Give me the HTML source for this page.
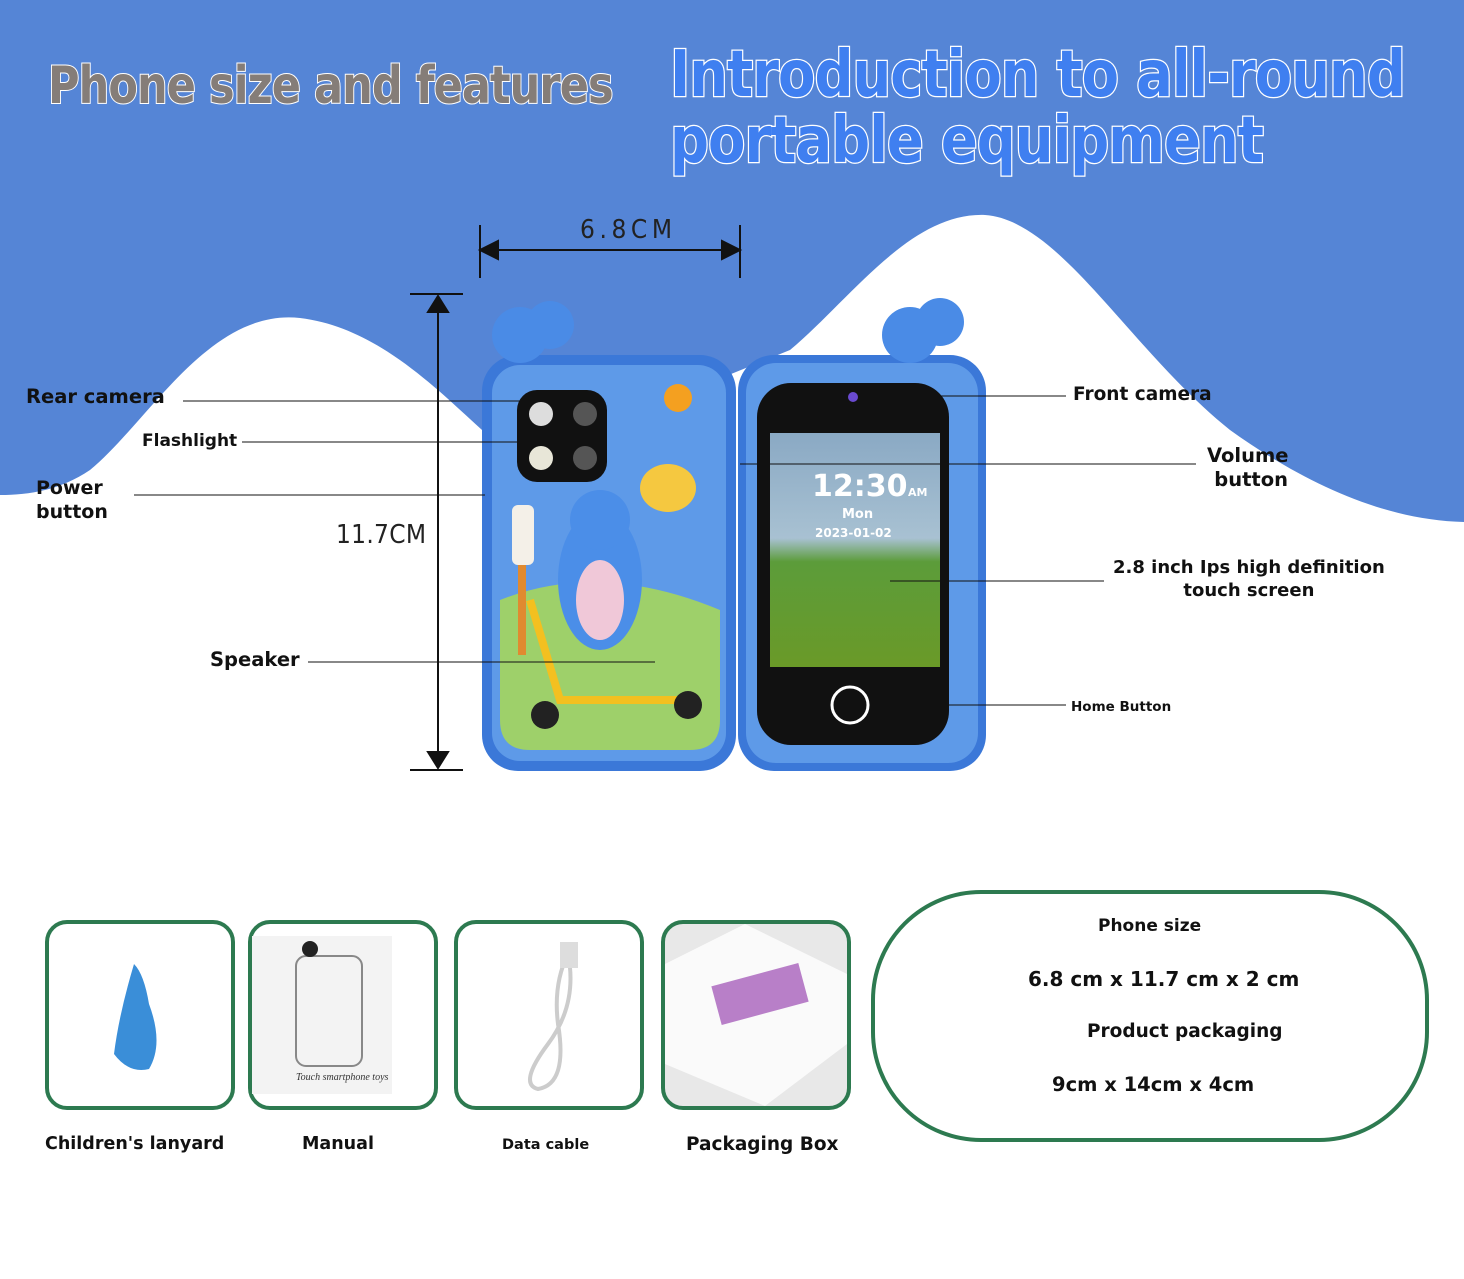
<!DOCTYPE html>
<html><head><meta charset="utf-8"><style>
html,body{margin:0;padding:0}
body{width:1464px;height:1279px;position:relative;background:#fff;overflow:hidden;font-family:"Liberation Sans","DejaVu Sans",sans-serif}
.abs{position:absolute;white-space:nowrap}
.t1{left:48px;top:56px;font:bold 52px "DejaVu Sans Condensed","DejaVu Sans",sans-serif;color:#857d78;-webkit-text-stroke:2px #fff;paint-order:stroke fill;transform-origin:0 0;transform:scaleX(0.92);letter-spacing:-1px}
.t2{left:670px;font:bold 64px "DejaVu Sans Condensed","DejaVu Sans",sans-serif;color:#3f7ff0;-webkit-text-stroke:2.5px #fff;paint-order:stroke fill;transform-origin:0 0;letter-spacing:-1px}
.lbl{font:bold 19px "DejaVu Sans","Liberation Sans",sans-serif;color:#111;line-height:24px}
.box{position:absolute;top:920px;width:182px;height:182px;border:4px solid #2d7a50;border-radius:22px;background:#fff}
.cap{position:absolute;top:1134px;font:bold 17.5px "DejaVu Sans",sans-serif;color:#111}
.big{position:absolute;left:871px;top:890px;width:550px;height:244px;border:4px solid #2d7a50;border-radius:110px}
.bt{position:absolute;font:bold 18px "DejaVu Sans",sans-serif;color:#111;white-space:nowrap}
</style></head><body>
<svg class="abs" style="left:0;top:0" width="1464" height="1279">
<path d="M0 0H1464V522C1380 520 1300 480 1230 430C1130 350 1060 220 985 215C910 212 850 300 790 350L520 460C470 430 400 330 300 318C210 308 150 420 90 470C60 490 30 495 0 495Z" fill="#5585d6"/>
<g stroke="#111" stroke-width="2" fill="#111">
<line x1="480" y1="225" x2="480" y2="278"/><line x1="740" y1="225" x2="740" y2="278"/>
<line x1="490" y1="250" x2="730" y2="250"/>
<polygon points="480,250 498,241 498,259"/><polygon points="740,250 722,241 722,259"/>
<line x1="410" y1="294" x2="463" y2="294"/><line x1="410" y1="770" x2="463" y2="770"/>
<line x1="438" y1="300" x2="438" y2="764"/>
<polygon points="438,296 428,312 448,312"/><polygon points="438,768 428,752 448,752"/>
</g>
<rect x="482" y="355" width="254" height="416" rx="36" fill="#3b78d8"/>
<rect x="492" y="365" width="234" height="396" rx="28" fill="#5e9ae8"/>
<path d="M500 600 Q600 560 720 610 L720 720 Q720 750 690 750 L530 750 Q500 750 500 720Z" fill="#9ed06a"/>
<circle cx="520" cy="335" r="28" fill="#4a8be6"/><circle cx="550" cy="325" r="24" fill="#4a8be6"/>
<rect x="517" y="390" width="90" height="92" rx="20" fill="#111"/>
<circle cx="541" cy="414" r="12" fill="#ddd"/><circle cx="585" cy="414" r="12" fill="#555"/>
<circle cx="541" cy="458" r="12" fill="#e8e6d8"/><circle cx="585" cy="458" r="12" fill="#555"/>
<circle cx="678" cy="398" r="14" fill="#f4a020"/>
<ellipse cx="600" cy="580" rx="42" ry="70" fill="#4b8ee8"/><ellipse cx="600" cy="600" rx="24" ry="40" fill="#f0c8d8"/>
<circle cx="600" cy="520" r="30" fill="#4b8ee8"/>
<ellipse cx="668" cy="488" rx="28" ry="24" fill="#f5c840"/>
<rect x="512" y="505" width="22" height="60" rx="6" fill="#f4f0e8"/>
<rect x="518" y="565" width="8" height="90" fill="#e08a30"/>
<path d="M530 600 L560 700 L690 700" stroke="#f3c020" stroke-width="8" fill="none"/>
<circle cx="545" cy="715" r="14" fill="#222"/><circle cx="688" cy="705" r="14" fill="#222"/>
<rect x="738" y="355" width="248" height="416" rx="36" fill="#3b78d8"/>
<rect x="746" y="363" width="232" height="400" rx="30" fill="#5e9ae8"/>
<circle cx="910" cy="335" r="28" fill="#4a8be6"/><circle cx="940" cy="322" r="24" fill="#4a8be6"/>
<rect x="757" y="383" width="192" height="362" rx="34" fill="#111"/>
<defs><linearGradient id="g" x1="0" y1="0" x2="0" y2="1"><stop offset="0" stop-color="#8aa9c4"/><stop offset="0.45" stop-color="#a8c1d2"/><stop offset="0.55" stop-color="#5c9c3a"/><stop offset="1" stop-color="#6a9a28"/></linearGradient></defs>
<rect x="770" y="433" width="170" height="234" fill="url(#g)"/>
<text x="812" y="496" font-family="DejaVu Sans" font-weight="bold" font-size="30" fill="#fff">12:30</text>
<text x="908" y="496" font-family="DejaVu Sans" font-weight="bold" font-size="11" fill="#fff">AM</text>
<text x="842" y="518" font-family="DejaVu Sans" font-weight="bold" font-size="13" fill="#fff">Mon</text>
<text x="815" y="537" font-family="DejaVu Sans" font-weight="bold" font-size="12" fill="#fff">2023-01-02</text>
<circle cx="850" cy="705" r="18" fill="none" stroke="#fff" stroke-width="3"/>
<circle cx="853" cy="397" r="5" fill="#6a4ad0"/>
<g stroke="#111" stroke-width="1">
<line x1="183" y1="401" x2="530" y2="401"/>
<line x1="242" y1="442" x2="530" y2="442"/>
<line x1="134" y1="495" x2="485" y2="495"/>
<line x1="308" y1="662" x2="655" y2="662"/>
<line x1="880" y1="396" x2="1066" y2="396"/>
<line x1="740" y1="464" x2="1196" y2="464"/>
<line x1="890" y1="581" x2="1104" y2="581"/>
<line x1="945" y1="705" x2="1066" y2="705"/>
</g>
<text x="580" y="238" font-family="DejaVu Sans Condensed, DejaVu Sans" font-size="26" fill="#222" textLength="92">6.8CM</text>
<text x="336" y="543" font-family="DejaVu Sans Condensed, DejaVu Sans" font-size="26" fill="#222" textLength="90">11.7CM</text>
</svg>
<div class="abs t1">Phone size and features</div>
<div class="abs t2" style="top:38px;transform:scaleX(0.945)">Introduction to all-round</div>
<div class="abs t2" style="top:104px;transform:scaleX(0.945)">portable equipment</div>
<div class="abs lbl" style="left:26px;top:385px;font-size:19.5px">Rear camera</div>
<div class="abs lbl" style="left:142px;top:429px;font-size:17px">Flashlight</div>
<div class="abs lbl" style="left:36px;top:476px;font-size:19px">Power<br>button</div>
<div class="abs lbl" style="left:210px;top:648px;font-size:19.5px">Speaker</div>
<div class="abs lbl" style="left:1073px;top:383px;font-size:18.5px">Front camera</div>
<div class="abs lbl" style="left:1207px;top:444px;text-align:center;font-size:19.5px">Volume<br>&nbsp;button</div>
<div class="abs lbl" style="left:1113px;top:556px;text-align:center;line-height:23px;font-size:18px">2.8 inch Ips high definition<br>touch screen</div>
<div class="abs lbl" style="left:1071px;top:695px;font-size:13.5px">Home Button</div>
<div class="box" style="left:45px"><svg width="182" height="182"><path d="M85 40 Q70 90 65 130 Q80 150 100 145 Q115 120 100 80 Q95 50 85 40" fill="#3a8ed8"/></svg></div>
<div class="box" style="left:248px"><svg width="182" height="182"><rect x="0" y="12" width="140" height="158" fill="#f3f3f3"/><rect x="44" y="32" width="66" height="110" rx="10" fill="none" stroke="#888" stroke-width="2"/><circle cx="58" cy="25" r="8" fill="#222"/><text x="44" y="156" font-size="10" font-style="italic" fill="#333" font-family="Liberation Serif">Touch smartphone toys</text></svg></div>
<div class="box" style="left:454px"><svg width="182" height="182"><path d="M110 30 Q120 80 90 120 Q60 160 80 165 Q110 160 100 100 Q95 60 110 30" fill="none" stroke="#ccc" stroke-width="4"/><rect x="102" y="18" width="18" height="26" fill="#ddd"/></svg></div>
<div class="box" style="left:661px;background:#e8e8e8"><svg width="182" height="182"><polygon points="0,40 80,0 182,50 182,120 100,182 0,140" fill="#fafafa"/><rect x="50" y="50" width="90" height="40" fill="#b87fc8" transform="rotate(-15 95 70)"/></svg></div>
<div class="cap" style="left:45px">Children's lanyard</div>
<div class="cap" style="left:302px">Manual</div>
<div class="cap" style="left:502px;font-size:14.5px;top:1137px">Data cable</div>
<div class="cap" style="left:686px;font-size:18.5px">Packaging Box</div>
<div class="big"></div>
<div class="bt" style="left:1098px;top:916px;font-size:17px">Phone size</div>
<div class="bt" style="left:1028px;top:967px;font-size:20px">6.8 cm x 11.7 cm x 2 cm</div>
<div class="bt" style="left:1087px;top:1021px;font-size:18.5px">Product packaging</div>
<div class="bt" style="left:1052px;top:1073px;font-size:19.5px">9cm x 14cm x 4cm</div>
</body></html>
